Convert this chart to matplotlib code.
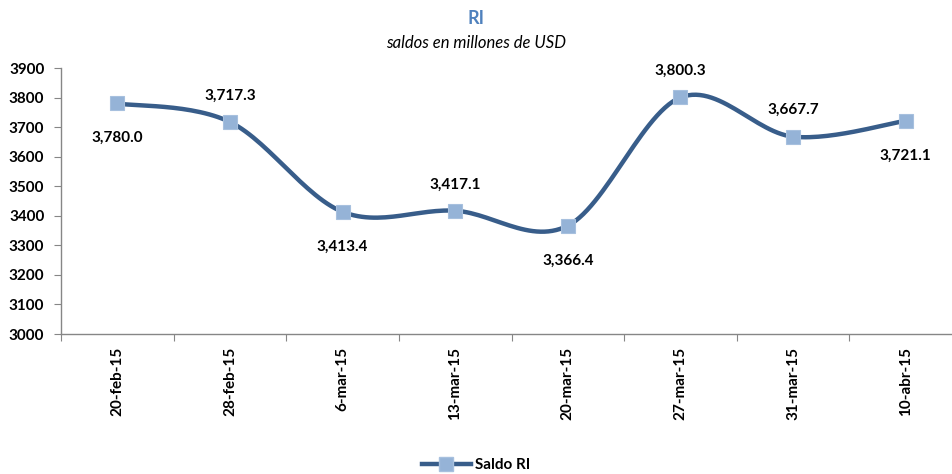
import numpy as np
import matplotlib
matplotlib.use('Agg')
import matplotlib.pyplot as plt
from matplotlib.lines import Line2D

plt.rcParams['font.family'] = ['Lato', 'DejaVu Sans']

fechas = ['20-feb-15', '28-feb-15', '6-mar-15', '13-mar-15',
          '20-mar-15', '27-mar-15', '31-mar-15', '10-abr-15']
saldo_ri = [3780.0, 3717.3, 3413.4, 3417.1, 3366.4, 3800.3, 3667.7, 3721.1]
posicion = ['below', 'above', 'below', 'above', 'below', 'above', 'above', 'below']

line_color = '#385D8A'
marker_color = '#95B3D7'
axis_color = '#868686'


def smooth(xs, ys, n=30):
    # Bezier smoothing like the spreadsheet "smoothed line"
    xs = np.asarray(xs, float)
    ys = np.asarray(ys, float)
    px, py = [], []
    for i in range(len(xs) - 1):
        x0, y0 = (xs[i - 1], ys[i - 1]) if i > 0 else (xs[i], ys[i])
        x3, y3 = (xs[i + 2], ys[i + 2]) if i + 2 < len(xs) else (xs[i + 1], ys[i + 1])
        x1, y1 = xs[i], ys[i]
        x2, y2 = xs[i + 1], ys[i + 1]
        c1 = (x1 + (x2 - x0) / 6, y1 + (y2 - y0) / 6)
        c2 = (x2 - (x3 - x1) / 6, y2 - (y3 - y1) / 6)
        t = np.linspace(0, 1, n)
        bx = (1 - t) ** 3 * x1 + 3 * (1 - t) ** 2 * t * c1[0] + 3 * (1 - t) * t ** 2 * c2[0] + t ** 3 * x2
        by = (1 - t) ** 3 * y1 + 3 * (1 - t) ** 2 * t * c1[1] + 3 * (1 - t) * t ** 2 * c2[1] + t ** 3 * y2
        px.extend(bx)
        py.extend(by)
    return px, py


fig = plt.figure(figsize=(9.52, 4.74), dpi=100)
ax = fig.add_axes([61 / 952, 1 - 334 / 474, 901 / 952, 266 / 474])

x = np.arange(len(fechas))
sx, sy = smooth(x, saldo_ri)
ax.plot(sx, sy, color=line_color, lw=3.2, solid_capstyle='round', zorder=2)
ax.plot(x, saldo_ri, ls='none', marker='s', ms=9.5, mfc=marker_color,
        mec='#A7C0DE', mew=0.8, zorder=3)

for xi, v, pos in zip(x, saldo_ri, posicion):
    dy = 19 if pos == 'above' else -25
    ax.annotate(f'{v:,.1f}', (xi, v), xytext=(0, dy), textcoords='offset points',
                ha='center', va='center', fontsize=11, fontweight='bold')

ax.set_ylim(3000, 3900)
ax.set_yticks(range(3000, 3901, 100))
ax.set_xlim(-0.5, len(fechas) - 0.5)
ax.set_xticks(np.arange(-0.5, len(fechas), 1.0))
ax.set_xticklabels([])
ax.set_xticks(x, minor=True)
ax.set_xticklabels(fechas, minor=True, rotation=90, fontweight='bold', fontsize=11)
ax.tick_params(axis='x', which='minor', length=0, pad=9)
ax.tick_params(axis='x', which='major', length=5, color=axis_color)
ax.tick_params(axis='y', length=5, color=axis_color, labelsize=11, pad=7)
for lbl in ax.get_yticklabels():
    lbl.set_fontweight('bold')

for s in ['top', 'right']:
    ax.spines[s].set_visible(False)
for s in ['left', 'bottom']:
    ax.spines[s].set_color(axis_color)
    ax.spines[s].set_linewidth(1.0)

fig.text(0.5, 1 - 18 / 474, 'RI', ha='center', va='center', fontsize=13,
         fontweight='bold', color='#4F81BD')
fig.text(0.5, 1 - 43 / 474, 'saldos en millones de USD', ha='center', va='center',
         fontsize=12, style='italic')

handle = Line2D([], [], color=line_color, lw=3.2, marker='s', ms=9.5,
                mfc=marker_color, mec='#A7C0DE')
fig.legend([handle], ['Saldo RI'], loc='center', bbox_to_anchor=(0.5, 1 - 465 / 474),
           frameon=False, prop={'weight': 'bold', 'size': 11}, handlelength=3.2,
           handletextpad=0.3)

fig.savefig('out.png', dpi=100)
